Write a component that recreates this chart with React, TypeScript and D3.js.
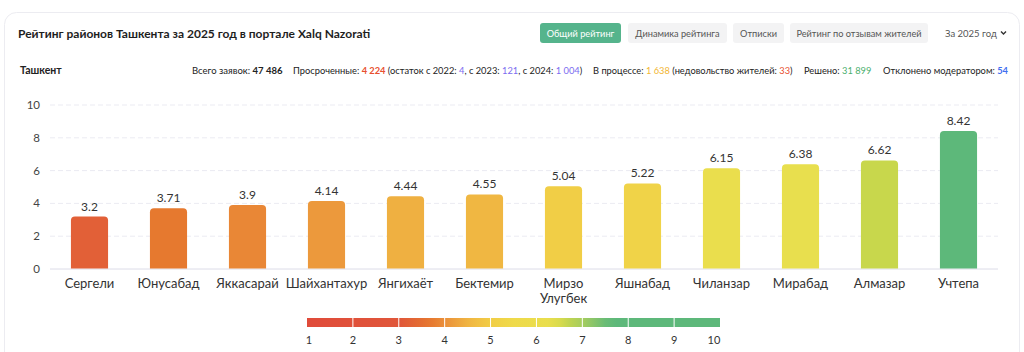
import React from 'react';
import * as d3 from 'd3';

const districts = [
  'Сергели', 'Юнусабад', 'Яккасарай', 'Шайхантахур', 'Янгихаёт', 'Бектемир',
  'Мирзо Улугбек', 'Яшнабад', 'Чиланзар', 'Мирабад', 'Алмазар', 'Учтепа',
];
const ratings = [3.2, 3.71, 3.9, 4.14, 4.44, 4.55, 5.04, 5.22, 6.15, 6.38, 6.62, 8.42];
const yTicks = [0, 2, 4, 6, 8, 10];
const legendTicks = [1, 2, 3, 4, 5, 6, 7, 8, 9, 10];
const tabs = ['Общий рейтинг', 'Динамика рейтинга', 'Отписки', 'Рейтинг по отзывам жителей'];

const FONT = 'Lato, "Noto Sans", sans-serif';

const W = 1024;
const H = 352;
const margin = { top: 105, right: 26, bottom: 83, left: 50 };

// value -> colour, same scale for bars and legend
const colorStops: [number, string][] = [
  [1, '#e04b3a'], [3, '#e0563a'], [3.7, '#e6782f'], [4, '#ea8f39'], [4.5, '#f0b442'],
  [5, '#f1cd46'], [5.5, '#efda4a'], [6.4, '#e8df4e'], [6.6, '#cad74b'], [7, '#a6cd5e'],
  [7.6, '#5db87a'], [10, '#5db87a'],
];
const color = d3
  .scaleLinear<string>()
  .domain(colorStops.map((d) => d[0]))
  .range(colorStops.map((d) => d[1]))
  .clamp(true);

const topRounded = (x: number, y: number, w: number, h: number, r: number) => {
  const rr = Math.min(r, h);
  return `M${x},${y + h}V${y + rr}Q${x},${y} ${x + rr},${y}H${x + w - rr}Q${x + w},${y} ${x + w},${y + rr}V${y + h}Z`;
};

const App: React.FC = () => {
  const x = d3
    .scaleBand<string>()
    .domain(districts)
    .range([margin.left, W - margin.right])
    .paddingInner(0.53)
    .paddingOuter(0.265);
  const y = d3.scaleLinear().domain([0, 10]).range([H - margin.bottom, margin.top]);

  const lg = d3.scaleLinear().domain([1, 10]).range([307, 720]);

  // tab buttons
  const tabX = [540, 628, 733, 790];
  const tabW = [81, 99, 51, 138];

  return (
    <div style={{ position: 'absolute', left: 0, top: 0 }}>
      <svg width={W} height={H} style={{ display: 'block', fontFamily: FONT }}>
        <defs>
          <linearGradient id="lg" gradientUnits="userSpaceOnUse" x1={lg(1)} x2={lg(10)} y1={0} y2={0}>
            {d3.range(1, 10.01, 0.25).map((v) => (
              <stop key={v} offset={(v - 1) / 9} stopColor={color(v)} />
            ))}
          </linearGradient>
        </defs>
        <rect x={0} y={0} width={W} height={H} fill="#fff" />
        <rect x={4.5} y={12.5} width={1015} height={400} rx={12} fill="#fff" stroke="#ececf1" />

        <text x={18} y={38} fontSize={12} fontWeight={700} fill="#1e1e1e">
          Рейтинг районов Ташкента за 2025 год в портале Xalq Nazorati
        </text>

        {tabs.map((t, i) => (
          <g key={t}>
            <rect x={tabX[i]} y={23} width={tabW[i]} height={20} rx={3} fill={i === 0 ? '#55b48c' : '#f3f3f4'} />
            <text
              x={tabX[i] + tabW[i] / 2}
              y={36.5}
              textAnchor="middle"
              fontSize={9.2}
              fill={i === 0 ? '#fff' : '#555'}
            >
              {t}
            </text>
          </g>
        ))}
        <text x={945} y={36.5} fontSize={9.5} fill="#555">За 2025 год</text>
        <path d="M1001,31.5l2.5,2.5l2.5,-2.5" fill="none" stroke="#333" strokeWidth={1.4} />

        <g fontSize={9.3} fill="#222">
          <text x={20} y={73.5} fontWeight={700} fontSize={10.5}>Ташкент</text>
          <text x={192} y={73.5} fontSize={9.5}>
            Всего заявок: <tspan fontWeight={700}>47 486</tspan>
          </text>
          <text x={293} y={73.5}>
            Просроченные: <tspan fill="#e8502f" fontWeight={700}>4 224</tspan> (остаток с 2022:{' '}
            <tspan fill="#7b6cf0">4</tspan>, с 2023: <tspan fill="#7b6cf0">121</tspan>, с 2024:{' '}
            <tspan fill="#7b6cf0">1 004</tspan>)
          </text>
          <text x={593} y={73.5}>
            В процессе: <tspan fill="#f2b632">1 638</tspan> (недовольство жителей:{' '}
            <tspan fill="#e8502f">33</tspan>)
          </text>
          <text x={804} y={73.5}>
            Решено: <tspan fill="#4caf6e">31 899</tspan>
          </text>
          <text x={883} y={73.5}>
            Отклонено модератором: <tspan fill="#3f6ef0" fontWeight={700}>54</tspan>
          </text>
        </g>

        {/* grid + y axis */}
        {yTicks.map((t) => (
          <g key={t}>
            {t > 0 && (
              <line
                x1={margin.left}
                x2={W - margin.right}
                y1={y(t)}
                y2={y(t)}
                stroke="#ebebf2"
                strokeDasharray="5 3"
              />
            )}
            <text x={40} y={y(t) + 4} textAnchor="end" fontSize={11.5} fill="#444">
              {t}
            </text>
          </g>
        ))}
        <line x1={margin.left} x2={W - margin.right} y1={y(0)} y2={y(0)} stroke="#dcdce8" />

        {/* bars */}
        {districts.map((d, i) => {
          const v = ratings[i];
          const bx = x(d)!;
          const bw = x.bandwidth();
          const words = d.split(' ');
          return (
            <g key={d}>
              <path d={topRounded(bx, y(v), bw, y(0) - y(v) - 0.5, 4)} fill={color(v)} />
              <text x={bx + bw / 2} y={y(v) - 6} textAnchor="middle" fontSize={12} fill="#333">
                {v}
              </text>
              {words.map((w, j) => (
                <text
                  key={w}
                  x={bx + bw / 2}
                  y={287.5 + j * 15}
                  textAnchor="middle"
                  fontSize={13}
                  fill="#333"
                >
                  {w}
                </text>
              ))}
            </g>
          );
        })}

        {/* legend */}
        <rect x={lg(1)} y={318} width={lg(10) - lg(1)} height={9} fill="url(#lg)" />
        {legendTicks.slice(1, -1).map((t) => (
          <line key={t} x1={lg(t)} x2={lg(t)} y1={318} y2={327} stroke="#fff" strokeWidth={1} />
        ))}
        {legendTicks.map((t, i) => (
          <text
            key={t}
            x={i === 0 ? lg(t) + 2 : i === legendTicks.length - 1 ? lg(t) - 6 : lg(t)}
            y={344}
            textAnchor="middle"
            fontSize={11}
            fill="#333"
          >
            {t}
          </text>
        ))}
      </svg>
    </div>
  );
};

export default App;
